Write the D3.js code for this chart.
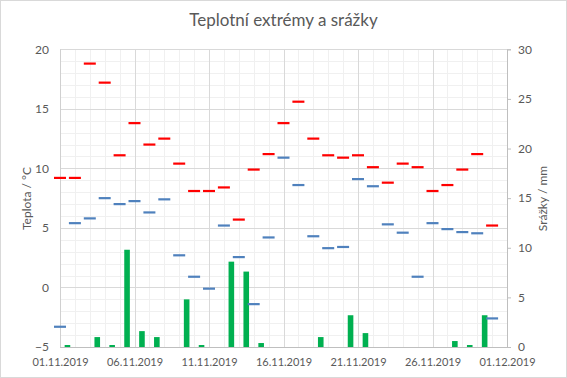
<!DOCTYPE html>
<html>
<head>
<meta charset="utf-8">
<script src="https://cdn.jsdelivr.net/npm/d3@7"></script>
<style>
  html, body { margin: 0; padding: 0; background: #fff; }
  svg { display: block; font-family: Lato, "Open Sans", sans-serif; }
</style>
</head>
<body>
<svg id="chart" width="567" height="378"></svg>
<script>
// ---- data ----
const dates = ["01.11.2019","02.11.2019","03.11.2019","04.11.2019","05.11.2019","06.11.2019",
  "07.11.2019","08.11.2019","09.11.2019","10.11.2019","11.11.2019","12.11.2019","13.11.2019",
  "14.11.2019","15.11.2019","16.11.2019","17.11.2019","18.11.2019","19.11.2019","20.11.2019",
  "21.11.2019","22.11.2019","23.11.2019","24.11.2019","25.11.2019","26.11.2019","27.11.2019",
  "28.11.2019","29.11.2019","30.11.2019"];
const tMax = [9.2, 9.2, 18.8, 17.2, 11.1, 13.8, 12.0, 12.5, 10.4, 8.1,
              8.1, 8.4, 5.7, 9.9, 11.2, 13.8, 15.6, 12.5, 11.1, 10.9,
              11.1, 10.1, 8.8, 10.4, 10.1, 8.1, 8.6, 9.9, 11.2, 5.2];
const tMin = [-3.3, 5.4, 5.8, 7.5, 7.0, 7.25, 6.3, 7.4, 2.7, 0.9,
              -0.1, 5.2, 2.55, -1.4, 4.2, 10.9, 8.6, 4.3, 3.3, 3.4,
              9.1, 8.5, 5.3, 4.6, 0.9, 5.4, 4.9, 4.65, 4.55, -2.6];
const precip = [0.2, 0, 1.0, 0.2, 9.8, 1.6, 1.0, 0, 4.8, 0.2,
                0, 8.6, 7.6, 0.4, 0, 0, 0, 1.0, 0, 3.2,
                1.4, 0, 0, 0, 0, 0, 0.6, 0.2, 3.2, 0];
const xTickLabels = ["01.11.2019","06.11.2019","11.11.2019","16.11.2019","21.11.2019","26.11.2019","01.12.2019"];
const tempTicks = [-5, 0, 5, 10, 15, 20];
const rainTicks = [0, 5, 10, 15, 20, 25, 30];
const title = "Teplotní extrémy a srážky";
const yLeftTitle = "Teplota / °C";
const yRightTitle = "Srážky / mm";

// ---- layout ----
const parse = d3.timeParse("%d.%m.%Y");
const L = 60, R = 507, T = 49.3, B = 347;
const svg = d3.select("#chart");
const textCol = "#595959";

const x = d3.scaleTime().domain([parse("01.11.2019"), parse("01.12.2019")]).range([L, R]);
const yT = d3.scaleLinear().domain([-5, 20]).range([B, T]);
const yP = d3.scaleLinear().domain([0, 30]).range([B, T]);

svg.append("rect").attr("x", 0.5).attr("y", 0.5).attr("width", 566).attr("height", 377)
  .attr("fill", "#fff").attr("stroke", "#D9D9D9");

// minor gridlines
const g = svg.append("g");
const allDays = d3.timeDay.range(parse("01.11.2019"), d3.timeDay.offset(parse("01.12.2019"), 1));
g.selectAll(".vmin").data(allDays).join("line")
  .attr("x1", d => Math.round(x(d)) + 0.5).attr("x2", d => Math.round(x(d)) + 0.5)
  .attr("y1", T).attr("y2", B).attr("stroke", "#F0F0F0");
g.selectAll(".hmin").data(d3.range(-5, 21, 1)).join("line")
  .attr("x1", L).attr("x2", R)
  .attr("y1", d => Math.round(yT(d)) + 0.5).attr("y2", d => Math.round(yT(d)) + 0.5)
  .attr("stroke", "#F0F0F0");
// major gridlines
const majorDates = xTickLabels.map(parse);
g.selectAll(".vmaj").data(majorDates).join("line")
  .attr("x1", d => Math.round(x(d)) + 0.5).attr("x2", d => Math.round(x(d)) + 0.5)
  .attr("y1", T).attr("y2", B).attr("stroke", "#D9D9D9");
g.selectAll(".hmaj").data(tempTicks).join("line")
  .attr("x1", L).attr("x2", R)
  .attr("y1", d => Math.round(yT(d)) + 0.5).attr("y2", d => Math.round(yT(d)) + 0.5)
  .attr("stroke", "#D9D9D9");

// bars
const oneDay = x(parse("02.11.2019")) - x(parse("01.11.2019"));
const bw = 5.6;
svg.append("g").selectAll("rect").data(dates.map((d, i) => ({d: parse(d), v: precip[i]})).filter(e => e.v > 0))
  .join("rect")
  .attr("x", e => x(e.d) + oneDay / 2 - bw / 2)
  .attr("width", bw)
  .attr("y", e => yP(e.v))
  .attr("height", e => yP(0) - yP(e.v))
  .attr("fill", "#00B050");

// axes lines
svg.append("line").attr("x1", L).attr("x2", R).attr("y1", B + 0.5).attr("y2", B + 0.5).attr("stroke", "#BFBFBF");
svg.append("line").attr("x1", L + 0.5).attr("x2", L + 0.5).attr("y1", T).attr("y2", B).attr("stroke", "#D0D0D0");

// right axis
const rightAxis = d3.axisRight(yP).tickValues(rainTicks).tickSize(4).tickPadding(7);
const ra = svg.append("g").attr("transform", `translate(${R},0)`).call(rightAxis);
ra.select(".domain").attr("stroke", "#BFBFBF");
ra.selectAll(".tick line").attr("stroke", "#BFBFBF");
ra.selectAll(".tick text").attr("fill", textCol).attr("font-size", 12).attr("font-family", "Lato, sans-serif");

// left axis labels
const leftAxis = d3.axisLeft(yT).tickValues(tempTicks).tickSize(0).tickPadding(11);
const la = svg.append("g").attr("transform", `translate(${L},0)`).call(leftAxis);
la.select(".domain").remove();
la.selectAll(".tick text").attr("fill", textCol).attr("font-size", 12).attr("font-family", "Lato, sans-serif");

// bottom axis labels
const bottomAxis = d3.axisBottom(x).tickValues(majorDates).tickFormat((d, i) => xTickLabels[i]).tickSize(0).tickPadding(11);
const ba = svg.append("g").attr("transform", `translate(0,${B})`).call(bottomAxis);
ba.select(".domain").remove();
ba.selectAll(".tick text").attr("fill", textCol).attr("font-size", 11).attr("font-family", "Lato, sans-serif");

// dashes
const dashW = 12;
const maxData = dates.map((d, i) => ({d: parse(d), v: tMax[i]}));
const minData = dates.map((d, i) => ({d: parse(d), v: tMin[i]}));
svg.append("g").selectAll("line").data(maxData).join("line")
  .attr("x1", e => x(e.d) - dashW / 2).attr("x2", e => x(e.d) + dashW / 2)
  .attr("y1", e => yT(e.v)).attr("y2", e => yT(e.v))
  .attr("stroke", "#FF0000").attr("stroke-width", 2.2);
svg.append("g").selectAll("line").data(minData).join("line")
  .attr("x1", e => x(e.d) - dashW / 2).attr("x2", e => x(e.d) + dashW / 2)
  .attr("y1", e => yT(e.v)).attr("y2", e => yT(e.v))
  .attr("stroke", "#4F81BD").attr("stroke-width", 2.2);

// titles
svg.append("text").attr("x", 283.5).attr("y", 26).attr("text-anchor", "middle")
  .attr("font-size", 17).attr("fill", textCol).text(title);
svg.append("text").attr("transform", "translate(31,198.5) rotate(-90)").attr("text-anchor", "middle")
  .attr("font-size", 12).attr("fill", textCol).text(yLeftTitle);
svg.append("text").attr("transform", "translate(547,198.5) rotate(-90)").attr("text-anchor", "middle")
  .attr("font-size", 12).attr("fill", textCol).text(yRightTitle);
</script>
</body>
</html>
